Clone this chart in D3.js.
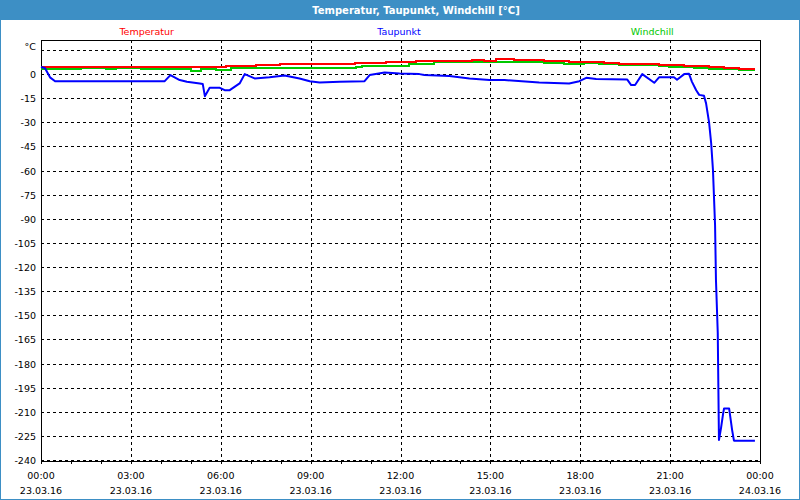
<!DOCTYPE html>
<html><head><meta charset="utf-8">
<script src="https://cdn.jsdelivr.net/npm/d3@7"></script>
<style>body{margin:0;background:#fff}svg{display:block}</style>
</head><body><svg id="c" width="800" height="500"></svg>
<script>
const chartTitle = "Temperatur, Taupunkt, Windchill [°C]";
const seriesNames = ["Temperatur", "Taupunkt", "Windchill"];
const seriesColors = ["#ff0000", "#0000ff", "#00c800"];
const xTickHours = [0, 3, 6, 9, 12, 15, 18, 21, 24];
const xTimeLabels = ["00:00", "03:00", "06:00", "09:00", "12:00", "15:00", "18:00", "21:00", "00:00"];
const xDateLabels = ["23.03.16", "23.03.16", "23.03.16", "23.03.16", "23.03.16", "23.03.16", "23.03.16", "23.03.16", "24.03.16"];
const yTickValues = [0, -15, -30, -45, -60, -75, -90, -105, -120, -135, -150, -165, -180, -195, -210, -225, -240];
const yUnitLabel = "°C";

// hours since 23.03.16 00:00
const tempHours  = [0, 6.17, 7.17, 7.97, 9.37, 9.8, 10.47, 11.53, 12.53, 14.37, 14.8, 15.2, 15.8, 16.8, 17.63, 18.8, 19.3, 20.63, 21.47, 22.3, 22.8, 23.3, 23.83];
const tempValues = [4.35, 4.98, 5.6, 6.03, 6.4, 6.03, 6.84, 7.46, 8.08, 8.7, 8.08, 9.33, 8.7, 8.08, 7.46, 6.84, 6.22, 5.6, 4.98, 4.35, 3.73, 3.11, 3.11];

const chillHours  = [0, 1.33, 2.17, 2.5, 3.33, 5.0, 5.33, 5.83, 6.33, 7.17, 7.67, 9.13, 10.53, 10.73, 12.3, 13.13, 14.97, 15.63, 16.8, 17.47, 18.13, 18.63, 19.3, 20.63, 20.97, 21.8, 22.3, 23.3, 23.83];
const chillValues = [3.11, 3.73, 3.11, 3.73, 3.11, 2.18, 3.11, 2.49, 3.73, 4.1, 3.5, 3.92, 4.35, 4.79, 6.03, 7.28, 7.65, 7.28, 6.84, 6.22, 6.84, 6.22, 5.6, 4.98, 4.35, 3.73, 3.11, 2.49, 2.49];

const dewHours  = [0, 0.13, 0.3, 0.47, 1.97, 3.97, 4.13, 4.32, 4.63, 4.87, 5.3, 5.4, 5.47, 5.63, 5.97, 6.13, 6.3, 6.63, 6.8, 7.13, 7.63, 8.13, 8.63, 8.97, 9.3, 9.97, 10.8, 10.97, 11.47, 11.97, 12.63, 12.8, 13.63, 14.3, 14.97, 15.47, 16.63, 17.63, 17.97, 18.2, 18.53, 19.57, 19.7, 19.83, 20.07, 20.47, 20.63, 21.13, 21.23, 21.47, 21.63, 21.73, 21.87, 21.97, 22.13, 22.2, 22.3, 22.37, 22.43, 22.5, 22.53, 22.59, 22.61, 22.63, 22.7, 22.77, 22.8, 22.97, 23.07, 23.13, 23.83];
const dewValues = [4.4, 3.8, -2.0, -4.4, -4.4, -4.4, -4.4, -0.6, -3.7, -4.8, -5.8, -6.2, -13.7, -8.5, -8.5, -10, -10, -5.8, 0, -2.7, -2.0, -0.8, -2.7, -4.4, -5.2, -4.8, -4.4, -0.6, 1.0, 0.4, 0, -0.6, -1.2, -2.7, -3.7, -3.7, -5.2, -5.8, -4.4, -2.3, -3.1, -3.4, -6.8, -6.8, 0, -5.4, -2.0, -2.0, -3.5, 0, 0.2, -4.8, -10, -12.9, -13.5, -18.2, -30, -43, -59.7, -94, -128, -161, -194.5, -227.6, -220, -211, -208, -208, -221.4, -228, -228];

const svg = d3.select("#c");
const W = 800, H = 500;
const m = {left: 41, right: 760, top: 40, bottom: 461};
const font = "'DejaVu Sans', sans-serif";

const x = d3.scaleLinear().domain([0, 24]).range([m.left, m.right]);
const y = d3.scaleLinear().domain([-240, 15]).range([460, 50]);

svg.append("rect").attr("width", W).attr("height", H).attr("fill", "#ffffff");
// title bar
svg.append("rect").attr("x", 0).attr("y", 0).attr("width", W).attr("height", 20).attr("fill", "#3d8fc5");
svg.append("rect").attr("x", 0.5).attr("y", 0.5).attr("width", W - 1).attr("height", H - 1)
  .attr("fill", "none").attr("stroke", "#3d8fc5").attr("stroke-width", 1);
svg.append("text").attr("x", 416).attr("y", 14).attr("text-anchor", "middle")
  .attr("font-family", font).attr("font-size", "10px").attr("font-weight", "bold")
  .attr("fill", "#ffffff").text(chartTitle);

// legend labels
const legendPos = [0.147, 0.498, 0.85];
seriesNames.forEach((n, i) => {
  svg.append("text").attr("x", m.left + (m.right - m.left) * legendPos[i]).attr("y", 35)
    .attr("text-anchor", "middle").attr("font-family", font).attr("font-size", "9.5px")
    .attr("fill", seriesColors[i]).text(n);
});

// grid
const grid = svg.append("g").attr("stroke", "#000").attr("stroke-width", 1)
  .attr("stroke-dasharray", "3,3").attr("shape-rendering", "crispEdges");
grid.selectAll(".h").data(yTickValues.concat([15])).enter().append("line")
  .attr("x1", m.left).attr("x2", m.right)
  .attr("y1", d => Math.round(y(d)) + 0.5).attr("y2", d => Math.round(y(d)) + 0.5);
grid.selectAll(".v").data(xTickHours.slice(1, -1)).enter().append("line")
  .attr("x1", d => Math.round(x(d)) + 0.5).attr("x2", d => Math.round(x(d)) + 0.5)
  .attr("y1", m.top).attr("y2", m.bottom);

// x axis
const xAxis = d3.axisBottom(x).tickValues(d3.range(0, 25, 1)).tickSize(3).tickFormat("");
const gx = svg.append("g").attr("transform", `translate(0,${m.bottom})`).call(xAxis);
gx.select(".domain").remove();
gx.selectAll("line").attr("stroke", "#000").attr("shape-rendering", "crispEdges");
xTickHours.forEach((h, i) => {
  svg.append("text").attr("x", x(h)).attr("y", 479).attr("text-anchor", "middle")
    .attr("font-family", font).attr("font-size", "9.5px").attr("fill", "#000").text(xTimeLabels[i]);
  svg.append("text").attr("x", x(h)).attr("y", 494).attr("text-anchor", "middle")
    .attr("font-family", font).attr("font-size", "9.5px").attr("fill", "#000").text(xDateLabels[i]);
});

// y axis labels
const yAxis = d3.axisLeft(y).tickValues(yTickValues).tickSize(0).tickPadding(5).tickFormat(d => d);
const gy = svg.append("g").attr("transform", `translate(${m.left},0)`).call(yAxis);
gy.select(".domain").remove();
gy.selectAll("text").attr("font-family", font).attr("font-size", "9.5px").attr("fill", "#000")
  .attr("dy", "0.37em");
svg.append("text").attr("x", 36).attr("y", y(15)).attr("text-anchor", "end")
  .attr("font-family", font).attr("font-size", "9.5px").attr("fill", "#000").text(yUnitLabel);

// frame
const frame = svg.append("g").attr("stroke", "#000").attr("stroke-width", 1).attr("fill", "none")
  .attr("shape-rendering", "crispEdges");
frame.append("path").attr("d", `M${m.left + 0.5},${m.top + 0.5}H${m.right + 0.5}V${m.bottom + 0.5}H${m.left + 0.5}Z`);

// series
function series(hours, values) { return hours.map((h, i) => [h, values[i]]); }
const stepLine = d3.line().x(d => x(d[0])).y(d => y(d[1])).curve(d3.curveStepAfter);
const line = d3.line().x(d => x(d[0])).y(d => y(d[1]));

svg.append("path").datum(series(chillHours, chillValues)).attr("d", stepLine)
  .attr("fill", "none").attr("stroke", seriesColors[2]).attr("stroke-width", 2).attr("shape-rendering", "crispEdges");
svg.append("path").datum(series(tempHours, tempValues)).attr("d", stepLine)
  .attr("fill", "none").attr("stroke", seriesColors[0]).attr("stroke-width", 2).attr("shape-rendering", "crispEdges");
svg.append("path").datum(series(dewHours, dewValues)).attr("d", line)
  .attr("fill", "none").attr("stroke", seriesColors[1]).attr("stroke-width", 2).attr("stroke-linejoin", "round");
</script></body></html>
